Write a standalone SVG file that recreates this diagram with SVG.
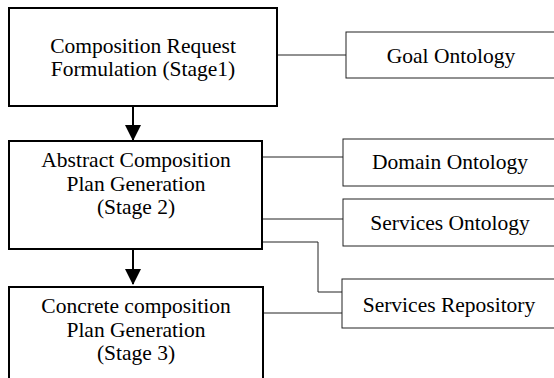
<svg xmlns="http://www.w3.org/2000/svg" width="554" height="378" viewBox="0 0 554 378">
<style>
.main{fill:#fff;stroke:#000;stroke-width:2}
.side{fill:#fff;stroke:#222;stroke-width:1}
.t{font-family:"Liberation Serif","Times New Roman",serif;font-size:21.5px;fill:#000;text-anchor:middle}
.c{fill:none;stroke:#222;stroke-width:1}
.a{fill:none;stroke:#000;stroke-width:2}
</style>
<defs>
<marker id="ah" markerUnits="userSpaceOnUse" markerWidth="16" markerHeight="17" refX="15" refY="8" orient="auto">
<path d="M0,0 L16,8 L0,16 Z" fill="#000"/>
</marker>
</defs>
<rect width="554" height="378" fill="#fff"/>
<g id="connectors">
<line class="c" x1="277" y1="55" x2="346" y2="55"/>
<line class="c" x1="262" y1="157" x2="343" y2="157"/>
<line class="c" x1="262" y1="219" x2="343" y2="219"/>
<polyline class="c" points="262,242 318,242 318,292 342,292"/>
<line class="c" x1="263" y1="313" x2="342" y2="313"/>
<line class="a" x1="133" y1="107" x2="133" y2="140" marker-end="url(#ah)"/>
<line class="a" x1="133" y1="250" x2="133" y2="284" marker-end="url(#ah)"/>
</g>
<g id="stage1">
<rect class="main" x="9" y="8" width="268" height="98"/>
<text class="t" x="143" y="53">Composition Request</text>
<text class="t" x="143" y="76">Formulation (Stage1)</text>
</g>
<g id="stage2">
<rect class="main" x="9" y="141" width="253" height="108"/>
<text class="t" x="136" y="167">Abstract Composition</text>
<text class="t" x="136" y="191">Plan Generation</text>
<text class="t" x="136" y="214">(Stage 2)</text>
</g>
<g id="stage3">
<rect class="main" x="9" y="287" width="254" height="100"/>
<text class="t" x="136" y="313">Concrete composition</text>
<text class="t" x="136" y="337">Plan Generation</text>
<text class="t" x="136" y="360">(Stage 3)</text>
</g>
<g id="goal">
<rect class="side" x="346" y="32" width="220" height="46"/>
<text class="t" x="451" y="63">Goal Ontology</text>
</g>
<g id="domain">
<rect class="side" x="343" y="139" width="220" height="47"/>
<text class="t" x="450" y="169">Domain Ontology</text>
</g>
<g id="services">
<rect class="side" x="343" y="199" width="220" height="47"/>
<text class="t" x="450" y="230">Services Ontology</text>
</g>
<g id="repository">
<rect class="side" x="342" y="279" width="220" height="49"/>
<text class="t" x="449" y="312">Services Repository</text>
</g>
</svg>
